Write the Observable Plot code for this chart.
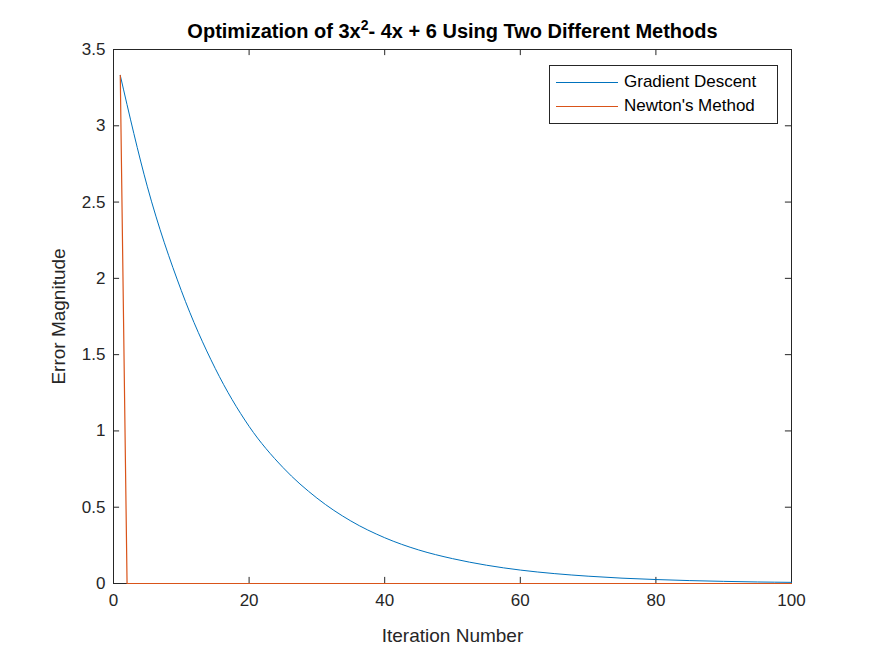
<!DOCTYPE html>
<html>
<head>
<meta charset="utf-8">
<script src="https://cdn.jsdelivr.net/npm/d3@7"></script>
<script src="https://cdn.jsdelivr.net/npm/@observablehq/plot@0.6"></script>
<style>
  body { margin: 0; background: #fff; font-family: "Liberation Sans", Arial, sans-serif; }
  #wrap { position: relative; width: 875px; height: 656px; }
  #title { position: absolute; left: 0; width: 905px; top: 17px; text-align: center; font-weight: bold; font-size: 20px; color: #000; }
  #legend { position: absolute; left: 549px; top: 65px; width: 227px; height: 57px; border: 1px solid #262626; background: #fff; font-size: 17px; }
  .row { position: absolute; left: 6px; height: 20px; display: flex; align-items: center; }
  .sw { width: 62px; height: 0; border-top: 1px solid; margin-right: 6px; }
</style>
</head>
<body>
<div id="wrap">
  <div id="title">Optimization of 3x<sup style="font-size:14px">2</sup>- 4x + 6 Using Two Different Methods</div>
  <div id="chart"></div>
  <div id="legend">
    <div class="row" style="top:6px"><div class="sw" style="border-color:#0072BD"></div>Gradient Descent</div>
    <div class="row" style="top:30px"><div class="sw" style="border-color:#D95319"></div>Newton's Method</div>
  </div>
</div>
<script>
// values
const gdIter = [1, 5, 10, 15, 20, 25, 30, 35, 40, 45, 50, 55, 60, 65, 70, 75, 80, 85, 90, 95, 100];
const gdError = [3.33, 2.6, 1.92, 1.41, 1.03, 0.76, 0.56, 0.41, 0.30, 0.22, 0.163, 0.12, 0.088, 0.065, 0.048, 0.035, 0.026, 0.019, 0.014, 0.010, 0.0075];
const nmIter = [1, 2, 100];
const nmError = [3.33, 0, 0];
const xTicks = [0, 20, 40, 60, 80, 100];
const yTicks = [0, 0.5, 1, 1.5, 2, 2.5, 3, 3.5];

const gd = gdIter.map((x, i) => ({ x, y: gdError[i] }));
const nm = nmIter.map((x, i) => ({ x, y: nmError[i] }));
const tickLen = 0.04, tickLenX = 0.9;

const chart = Plot.plot({
  width: 875,
  height: 656,
  marginLeft: 113,
  marginRight: 84,
  marginTop: 49,
  marginBottom: 73,
  style: { fontFamily: "Liberation Sans, Arial, sans-serif", fontSize: "17px", color: "#262626", background: "#fff" },
  x: { domain: [0, 100] },
  y: { domain: [0, 3.5] },
  marks: [
    Plot.axisX({ ticks: xTicks, tickSize: 0, tickPadding: 10, label: null, fontSize: 17 }),
    Plot.axisX({ ticks: [], tickSize: 0, label: "Iteration Number", labelAnchor: "center", labelArrow: "none", labelOffset: 58, fontSize: 19 }),
    Plot.axisY({ ticks: yTicks, tickSize: 0, tickPadding: 8, label: null, fontSize: 17, tickFormat: d => String(d) }),
    Plot.axisY({ ticks: [], tickSize: 0, label: "Error Magnitude", labelAnchor: "center", labelArrow: "none", labelOffset: 62, fontSize: 19 }),
    Plot.frame({ stroke: "#262626" }),
    Plot.ruleX(xTicks, { x: d => d, y1: 0, y2: tickLen, stroke: "#262626" }),
    Plot.ruleX(xTicks, { x: d => d, y1: 3.5 - tickLen, y2: 3.5, stroke: "#262626" }),
    Plot.ruleY(yTicks, { y: d => d, x1: 0, x2: tickLenX, stroke: "#262626" }),
    Plot.ruleY(yTicks, { y: d => d, x1: 100 - tickLenX, x2: 100, stroke: "#262626" }),
    Plot.line(gd, { x: "x", y: "y", stroke: "#0072BD", strokeWidth: 1, curve: "monotone-x" }),
    Plot.line(nm, { x: "x", y: "y", stroke: "#D95319", strokeWidth: 1.2 })
  ]
});
document.getElementById("chart").append(chart);
</script>
</body>
</html>
